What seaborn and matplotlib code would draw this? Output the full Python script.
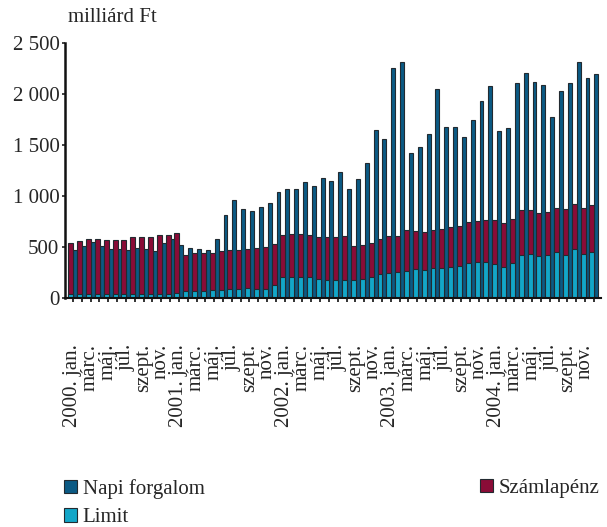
import numpy as np
import pandas as pd
import matplotlib.pyplot as plt
import seaborn as sns
from matplotlib.patches import Patch

# havi adatok, 2000. jan. - 2004. dec. (milliárd Ft)
years = ["2000.", "2001.", "2002.", "2003.", "2004."]
month_names = ["jan.", "márc.", "máj.", "júl.", "szept.", "nov."]

limit = [38, 38, 40, 40, 40, 40, 40, 40, 40, 40, 40, 40,
         48, 65, 68, 72, 78, 78, 88, 88, 95, 90, 88, 127,
         209, 209, 209, 202, 183, 176, 176, 176, 176, 183, 202, 232,
         248, 258, 267, 281, 274, 297, 294, 300, 313, 339, 349, 349,
         336, 307, 339, 418, 431, 411, 418, 450, 421, 476, 427, 450]

szamlapenz = [497, 520, 534, 534, 528, 528, 528, 554, 560, 560, 573, 580,
              591, 356, 369, 372, 366, 382, 382, 382, 381, 396, 408, 401,
              411, 417, 417, 414, 411, 418, 421, 431, 336, 332, 339, 345,
              355, 345, 395, 375, 375, 372, 384, 391, 392, 405, 404, 414,
              427, 430, 431, 443, 427, 424, 420, 427, 450, 444, 454, 457]

napi_forgalom = [470, 512, 548, 509, 479, 483, 470, 486, 481, 461, 538, 574,
                 522, 494, 479, 474, 574, 812, 956, 871, 855, 887, 926, 1040,
                 1063, 1067, 1138, 1093, 1174, 1142, 1230, 1070, 1168, 1318, 1644, 1553,
                 2251, 2313, 1422, 1474, 1605, 2042, 1670, 1670, 1579, 1742, 1931, 2074,
                 1634, 1660, 2107, 2198, 2110, 2084, 1768, 2029, 2107, 2309, 2149, 2189]

y_ticks = [0, 500, 1000, 1500, 2000, 2500]
y_tick_labels = ["0", "500", "1 000", "1 500", "2 000", "2 500"]

c_napi = "#0b5a84"
c_szamla = "#8a0c37"
c_limit = "#13a6c8"
c_edge = "#222a30"

df = pd.DataFrame({"honap": np.arange(len(limit)),
                   "limit": limit,
                   "szamla": szamlapenz,
                   "napi": napi_forgalom})
df["osszes"] = df["limit"] + df["szamla"]

# x tengely feliratai: minden második hónap
xlabels = []
for y in years:
    for m in range(12):
        if m % 2 == 0:
            nev = month_names[m // 2]
            xlabels.append(f"{y} {nev}" if m == 0 else nev)
        else:
            xlabels.append("")

sns.set_theme(style="ticks")
plt.rcParams["font.family"] = ["Liberation Serif", "DejaVu Serif"]

fig = plt.figure(figsize=(6.07, 5.27), dpi=100)
ax = fig.add_axes([0.107, 0.4345, 0.883, 0.4848])

bar_kw = dict(native_scale=True, saturation=1, errorbar=None,
              edgecolor=c_edge, linewidth=0.8, ax=ax)
sns.barplot(x=df["honap"] + 0.28, y=df["napi"], width=0.44, color=c_napi, **bar_kw)
sns.barplot(x=df["honap"] - 0.22, y=df["osszes"], width=0.56, color=c_szamla, **bar_kw)
sns.barplot(x=df["honap"] - 0.22, y=df["limit"], width=0.56, color=c_limit, **bar_kw)

ax.set_xlim(-0.9, 59.8)
ax.set_ylim(0, 2500)
ax.set_xticks(df["honap"])
ax.set_xticklabels(xlabels, rotation=90, fontsize=15)
ax.set_yticks(y_ticks)
ax.set_yticklabels(y_tick_labels, fontsize=15)
ax.set_xlabel("")
ax.set_ylabel("")
ax.tick_params(axis="x", length=3, width=1.3, pad=30, color="#222222")
ax.tick_params(axis="y", length=2, width=1.2, pad=2, color="#222222")
sns.despine(ax=ax)
ax.spines["left"].set_linewidth(1.8)
ax.spines["bottom"].set_linewidth(1.5)
ax.spines["left"].set_color("#111111")
ax.spines["bottom"].set_color("#111111")

fig.text(68 / 607, 1 - 18 / 527, "milliárd Ft", fontsize=15, va="center", ha="left")

leg_kw = dict(frameon=False, fontsize=15, handlelength=0.6, handleheight=0.6,
              handletextpad=0.3, borderpad=0, borderaxespad=0, labelspacing=0.45)
h_napi = Patch(facecolor=c_napi, edgecolor=c_edge, linewidth=0.8)
h_limit = Patch(facecolor=c_limit, edgecolor=c_edge, linewidth=0.8)
h_szamla = Patch(facecolor=c_szamla, edgecolor=c_edge, linewidth=0.8)
fig.legend([h_napi, h_limit], ["Napi forgalom", "Limit"], loc="upper left",
           bbox_to_anchor=(64 / 607, 1 - 479 / 527), **leg_kw)
fig.legend([h_szamla], ["Számlapénz"], loc="upper left",
           bbox_to_anchor=(480 / 607, 1 - 479 / 527), **leg_kw)

fig.savefig("out.png", dpi=100)
